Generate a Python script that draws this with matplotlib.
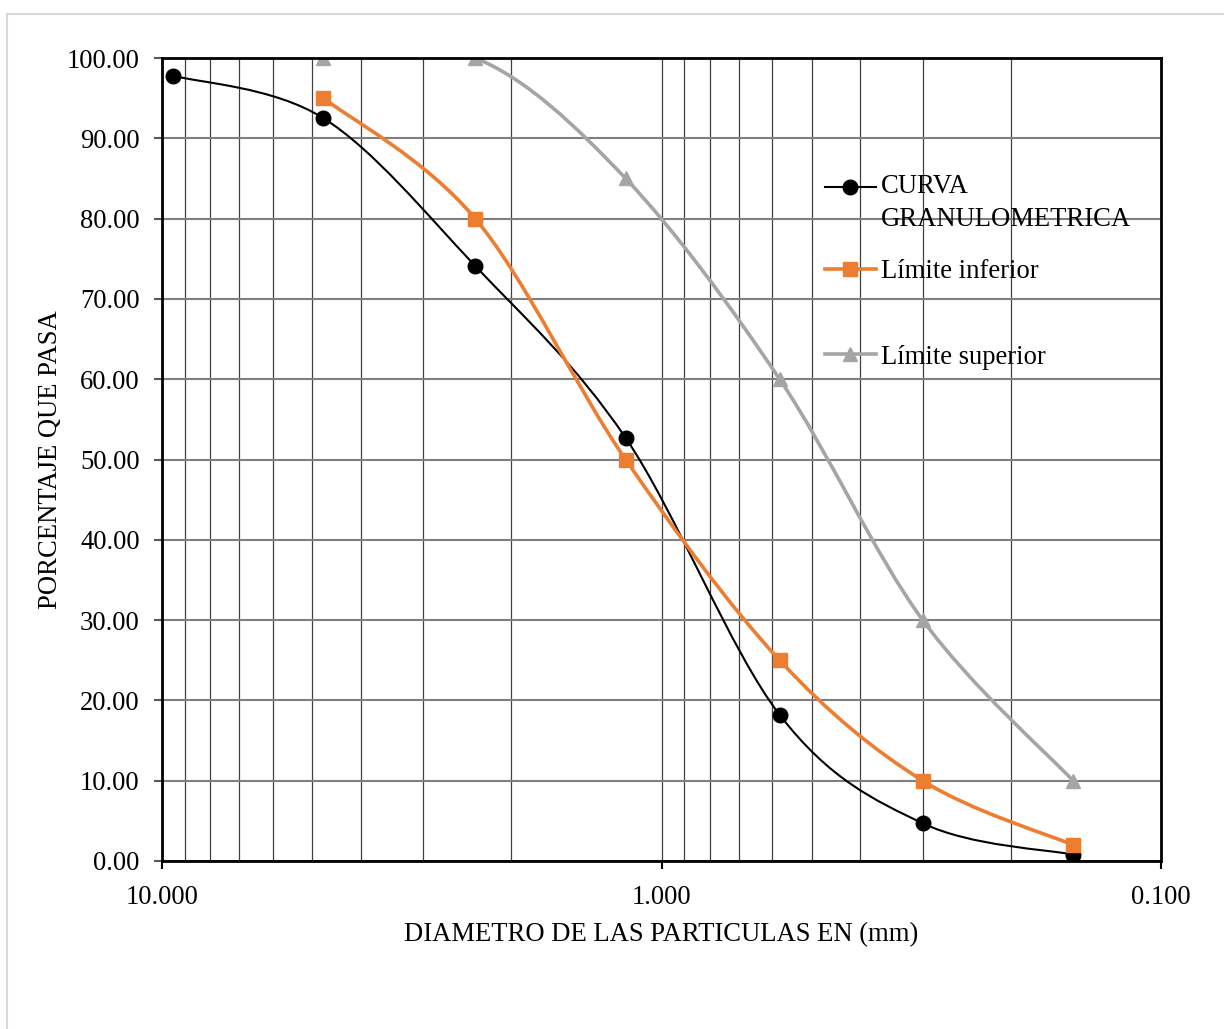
import numpy as np
import matplotlib
matplotlib.use("Agg")
import matplotlib.pyplot as plt
from matplotlib.lines import Line2D
from matplotlib.patches import PathPatch, Rectangle
from matplotlib.path import Path
from matplotlib.legend_handler import HandlerLine2D
from matplotlib.ticker import FixedLocator, FuncFormatter, LogLocator, NullFormatter

plt.rcParams["font.family"] = ["Liberation Serif", "DejaVu Serif"]
plt.rcParams["font.size"] = 19.2

# sieve openings (mm) and percent passing
curva_x = [9.5, 4.75, 2.36, 1.18, 0.58, 0.3, 0.15]
curva_y = [97.8, 92.5, 74.1, 52.7, 18.2, 4.7, 0.8]
inf_x = [4.75, 2.36, 1.18, 0.58, 0.3, 0.15]
inf_y = [95.0, 80.0, 50.0, 25.0, 10.0, 2.0]
sup_x = [4.75, 2.36, 1.18, 0.58, 0.3, 0.15]
sup_y = [100.0, 100.0, 85.0, 60.0, 30.0, 10.0]

labels = ["CURVA\nGRANULOMETRICA", "Límite inferior", "Límite superior"]
x_ticks = [10.0, 1.0, 0.1]
y_ticks = list(range(0, 101, 10))

W, H = 1224, 1029
fig = plt.figure(figsize=(W / 100, H / 100), dpi=100)
fig.patches.append(Rectangle((7 / W, -0.05), 1.2, 1 - 14 / H + 0.05,
                             transform=fig.transFigure, fill=False,
                             edgecolor="#d9d9d9", lw=1.5))
ax = fig.add_axes([162 / W, 1 - 861 / H, (1161 - 162) / W, (861 - 58) / H])
ax.set_xscale("log")
ax.set_xlim(10, 0.1)
ax.set_ylim(0, 100)


def smooth_path(xs, ys):
    # Excel-like smoothed line: cubic Bezier segments built in screen space
    trans = ax.transData
    pts = trans.transform(np.column_stack([xs, ys]))
    n = len(pts)
    verts = [pts[0]]
    codes = [Path.MOVETO]
    for i in range(n - 1):
        p0 = pts[i - 1] if i > 0 else pts[i]
        p1, p2 = pts[i], pts[i + 1]
        p3 = pts[i + 2] if i + 2 < n else pts[i + 1]
        verts += [p1 + (p2 - p0) / 6, p2 - (p3 - p1) / 6, p2]
        codes += [Path.CURVE4] * 3
    return Path(trans.inverted().transform(np.array(verts)), codes)


class RaisedLineHandler(HandlerLine2D):
    # puts the key next to the first line of a two-line label
    def __init__(self, shift, **kw):
        super().__init__(**kw)
        self.shift = shift

    def create_artists(self, legend, orig_handle, xdescent, ydescent,
                       width, height, fontsize, trans):
        arts = super().create_artists(legend, orig_handle, xdescent, ydescent,
                                      width, height, fontsize, trans)
        for a in arts:
            a.set_ydata(np.asarray(a.get_ydata()) + self.shift)
        return arts


series = [
    (curva_x, curva_y, "black", 1.5, "o", 10.5, 3),
    (inf_x, inf_y, "#ED7D31", 2.6, "s", 10, 4),
    (sup_x, sup_y, "#A5A5A5", 2.6, "^", 10, 5),
]
handles = []
for xs, ys, color, lw, mk, ms, z in series:
    ax.add_patch(PathPatch(smooth_path(xs, ys), fill=False, edgecolor=color,
                           lw=lw, zorder=z, capstyle="round"))
    ax.plot(xs, ys, ls="none", marker=mk, ms=ms, color=color, zorder=z + 0.5)
    handles.append(Line2D([], [], color=color, lw=lw, marker=mk, ms=ms))

# axes styling
ax.xaxis.set_major_locator(FixedLocator(x_ticks))
ax.xaxis.set_major_formatter(FuncFormatter(lambda v, p: f"{v:.3f}"))
ax.xaxis.set_minor_locator(LogLocator(base=10, subs=np.arange(2, 10)))
ax.xaxis.set_minor_formatter(NullFormatter())
ax.yaxis.set_major_locator(FixedLocator(y_ticks))
ax.yaxis.set_major_formatter(FuncFormatter(lambda v, p: f"{v:.2f}"))
ax.tick_params(axis="x", which="major", length=6, width=1.5, color="black", pad=11)
ax.tick_params(axis="x", which="minor", length=0)
ax.tick_params(axis="y", length=6, width=1.5, color="#595959", pad=10)
ax.grid(True, axis="y", color="#7f7f7f", lw=1.5)
ax.grid(True, axis="x", which="both", color="#404040", lw=0.9)
ax.set_axisbelow(True)
for sp in ax.spines.values():
    sp.set_linewidth(2)
    sp.set_color("black")
    sp.set_zorder(6)

ax.set_xlabel("DIAMETRO DE LAS PARTICULAS EN (mm)", labelpad=9)
ax.set_ylabel("PORCENTAJE QUE PASA", labelpad=3)

# legend: one key per entry so the uneven Excel spacing can be kept
key_x = (825 - 162) / (1161 - 162)
key_rows = [203, 272, 357]
for i, (h, lab, row) in enumerate(zip(handles, labels, key_rows)):
    hmap = {h: RaisedLineHandler(12)} if "\n" in lab else None
    leg = ax.legend([h], [lab], loc="center left", frameon=False,
                    bbox_to_anchor=(key_x, (861 - row) / 803), borderpad=0,
                    borderaxespad=0, handlelength=1.9, handletextpad=0.2,
                    handler_map=hmap)
    leg.get_texts()[0].set_linespacing(1.4)
    leg.set_zorder(7)
    if i < len(handles) - 1:
        ax.add_artist(leg)

fig.savefig("out.png", dpi=100)
